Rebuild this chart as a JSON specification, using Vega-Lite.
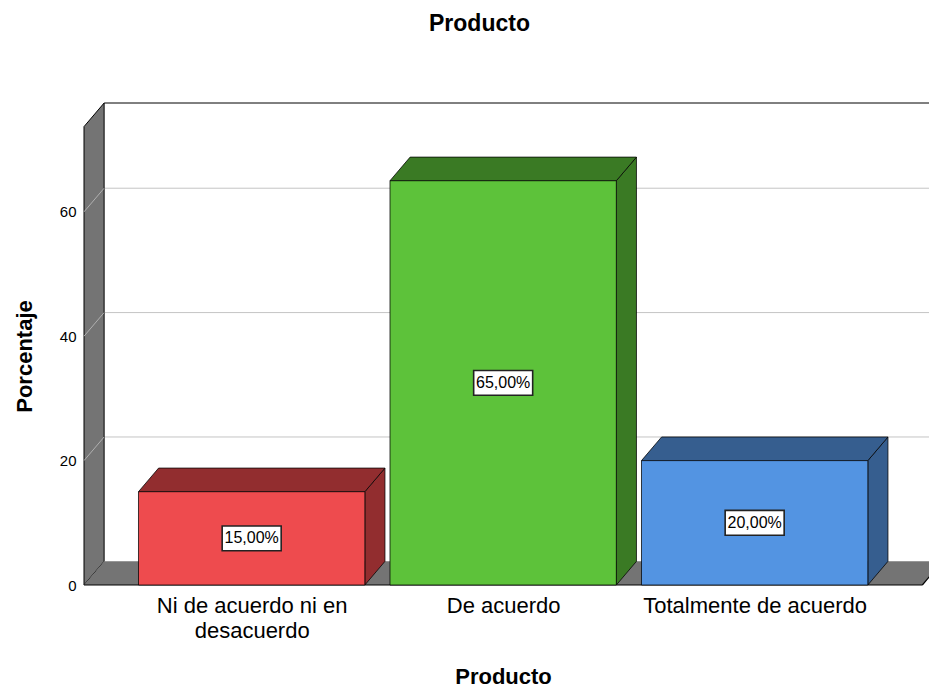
{
  "$schema": "https://vega.github.io/schema/vega-lite/v6.json",
  "width": 845,
  "height": 482,
  "autosize": "none",
  "padding": {"left": 84, "top": 103, "right": 0, "bottom": 106},
  "background": "white",
  "config": {
    "view": {"stroke": null},
    "font": "Liberation Sans",
    "axis": {"labelFont": "Liberation Sans", "titleFont": "Liberation Sans", "labelColor": "black", "titleColor": "black"}
  },
  "title": {
    "text": "Producto",
    "font": "Liberation Sans",
    "fontSize": 23,
    "fontWeight": "bold",
    "color": "black",
    "anchor": "middle",
    "offset": 65,
    "dx": -27
  },
  "datasets": {
    "respuestas": [
      {"producto": "Ni de acuerdo ni en desacuerdo", "porcentaje": 15},
      {"producto": "De acuerdo", "porcentaje": 65},
      {"producto": "Totalmente de acuerdo", "porcentaje": 20}
    ],
    "marco": [{"borde": "frente"}, {"borde": "fondo"}],
    "marcas": [{"valor": 20}, {"valor": 40}, {"valor": 60}]
  },
  "resolve": {"scale": {"fill": "independent"}},
  "layer": [
    {
      "data": {"values": [{}]},
      "mark": {"type": "rule", "color": "black", "strokeWidth": 1},
      "encoding": {
        "x": {
          "datum": -0.5867,
          "type": "quantitative",
          "scale": {"domain": [-0.6667, 2.6932], "nice": false, "zero": false},
          "axis": {
            "title": "Producto",
            "values": [0, 1, 2],
            "labelExpr": "datum.value == 0 ? ['Ni de acuerdo ni en', 'desacuerdo'] : datum.value == 1 ? 'De acuerdo' : 'Totalmente de acuerdo'",
            "grid": false,
            "domain": false,
            "ticks": false,
            "labelFlush": false,
            "labelOverlap": false,
            "labelLimit": 400,
            "labelFontSize": 22,
            "labelLineHeight": 25,
            "labelPadding": 10,
            "titleFontSize": 22,
            "titleFontWeight": "bold",
            "titlePadding": 25,
            "titleX": 419
          }
        },
        "x2": {"datum": 2.8},
        "y": {
          "datum": 77.5,
          "type": "quantitative",
          "scale": {"domain": [0, 77.5], "nice": false, "zero": false},
          "axis": {
            "title": "Porcentaje",
            "values": [0, 20, 40, 60],
            "grid": false,
            "domain": false,
            "ticks": false,
            "labelPadding": 8,
            "labelFontSize": 15,
            "titleFontSize": 22,
            "titleFontWeight": "bold",
            "titlePadding": 23,
            "titleY": 253
          }
        }
      }
    },
    {
      "data": {"name": "marcas"},
      "transform": [{"calculate": "datum.valor + 3.8", "as": "yf"}],
      "mark": {"type": "rule", "color": "#c4c4c4", "strokeWidth": 1},
      "encoding": {
        "x": {"datum": -0.5867, "type": "quantitative"},
        "x2": {"datum": 2.8},
        "y": {"field": "yf", "type": "quantitative"}
      }
    },
    {
      "data": {"name": "marco"},
      "transform": [
        {"calculate": "datum.borde == 'fondo' ? 1 : 0", "as": "d"},
        {"calculate": "-0.6667 + datum.d * 0.08", "as": "xw"},
        {"calculate": "datum.d * 3.8", "as": "y0"},
        {"calculate": "73.7 + datum.d * 3.8", "as": "y1"}
      ],
      "mark": {"type": "area", "orient": "vertical", "fill": "#747474", "stroke": "black", "strokeWidth": 1},
      "encoding": {
        "x": {"field": "xw", "type": "quantitative"},
        "y": {"field": "y1", "type": "quantitative"},
        "y2": {"field": "y0"}
      }
    },
    {
      "data": {"name": "marcas"},
      "transform": [{"calculate": "datum.valor + 3.8", "as": "yf"}],
      "mark": {"type": "rule", "color": "#b0b0b0", "strokeWidth": 1},
      "encoding": {
        "x": {"datum": -0.6667, "type": "quantitative"},
        "x2": {"datum": -0.5867},
        "y": {"field": "valor", "type": "quantitative"},
        "y2": {"field": "yf"}
      }
    },
    {
      "data": {"name": "marco"},
      "transform": [
        {"calculate": "datum.borde == 'fondo' ? 1 : 0", "as": "d"},
        {"calculate": "-0.6667 + datum.d * 0.08", "as": "xa"},
        {"calculate": "2.6667 + datum.d * 0.08", "as": "xb"},
        {"calculate": "datum.d * 3.8", "as": "yp"}
      ],
      "mark": {"type": "area", "orient": "horizontal", "fill": "#747474"},
      "encoding": {
        "y": {"field": "yp", "type": "quantitative"},
        "x": {"field": "xa", "type": "quantitative"},
        "x2": {"field": "xb"}
      }
    },
    {
      "data": {"values": [{}]},
      "mark": {"type": "rule", "color": "black", "strokeWidth": 1.2},
      "encoding": {
        "x": {"datum": -0.6667, "type": "quantitative"},
        "x2": {"datum": 2.6667},
        "y": {"datum": 0, "type": "quantitative"}
      }
    },
    {
      "data": {"values": [{}]},
      "mark": {"type": "rule", "color": "black", "strokeWidth": 1.2},
      "encoding": {
        "x": {"datum": 2.6667, "type": "quantitative"},
        "x2": {"datum": 2.7467},
        "y": {"datum": 0, "type": "quantitative"},
        "y2": {"datum": 3.8}
      }
    },
    {
      "data": {"name": "respuestas"},
      "transform": [
        {"window": [{"op": "row_number", "as": "n"}]},
        {"calculate": "datum.n - 1", "as": "c"},
        {"calculate": "0", "as": "frente"},
        {"calculate": "1", "as": "fondo"},
        {"fold": ["frente", "fondo"], "as": ["cara", "d"]},
        {"calculate": "datum.c + 0.45 + datum.d * 0.08", "as": "xs"},
        {"calculate": "datum.d * 3.8", "as": "ys0"},
        {"calculate": "datum.porcentaje + datum.d * 3.8", "as": "ys1"}
      ],
      "mark": {"type": "area", "orient": "vertical", "stroke": "black", "strokeWidth": 1, "strokeOpacity": 0.75},
      "encoding": {
        "detail": {"field": "producto"},
        "x": {"field": "xs", "type": "quantitative"},
        "y": {"field": "ys1", "type": "quantitative"},
        "y2": {"field": "ys0"},
        "fill": {
          "field": "producto",
          "type": "nominal",
          "legend": null,
          "scale": {"domain": ["Ni de acuerdo ni en desacuerdo", "De acuerdo", "Totalmente de acuerdo"], "range": ["#922D2F", "#3A7A24", "#365E8F"]}
        }
      }
    },
    {
      "data": {"name": "respuestas"},
      "transform": [
        {"window": [{"op": "row_number", "as": "n"}]},
        {"calculate": "datum.n - 1", "as": "c"},
        {"calculate": "0", "as": "frente"},
        {"calculate": "1", "as": "fondo"},
        {"fold": ["frente", "fondo"], "as": ["cara", "d"]},
        {"calculate": "datum.c - 0.45 + datum.d * 0.08", "as": "xt0"},
        {"calculate": "datum.c + 0.45 + datum.d * 0.08", "as": "xt1"},
        {"calculate": "datum.porcentaje + datum.d * 3.8", "as": "yt"}
      ],
      "mark": {"type": "area", "orient": "horizontal", "stroke": "black", "strokeWidth": 1, "strokeOpacity": 0.75},
      "encoding": {
        "detail": {"field": "producto"},
        "y": {"field": "yt", "type": "quantitative"},
        "x": {"field": "xt0", "type": "quantitative"},
        "x2": {"field": "xt1"},
        "fill": {
          "field": "producto",
          "type": "nominal",
          "legend": null,
          "scale": {"domain": ["Ni de acuerdo ni en desacuerdo", "De acuerdo", "Totalmente de acuerdo"], "range": ["#922D2F", "#3A7A24", "#365E8F"]}
        }
      }
    },
    {
      "data": {"name": "respuestas"},
      "transform": [
        {"window": [{"op": "row_number", "as": "n"}]},
        {"calculate": "datum.n - 1", "as": "c"},
        {"calculate": "datum.c - 0.45", "as": "xf0"},
        {"calculate": "datum.c + 0.45", "as": "xf1"}
      ],
      "mark": {"type": "rect", "stroke": "black", "strokeWidth": 1, "strokeOpacity": 0.75},
      "encoding": {
        "x": {"field": "xf0", "type": "quantitative"},
        "x2": {"field": "xf1"},
        "y": {"field": "porcentaje", "type": "quantitative"},
        "y2": {"datum": 0},
        "fill": {
          "field": "producto",
          "type": "nominal",
          "legend": null,
          "scale": {"domain": ["Ni de acuerdo ni en desacuerdo", "De acuerdo", "Totalmente de acuerdo"], "range": ["#EE4B4E", "#5DC23A", "#5394E2"]}
        }
      }
    },
    {
      "data": {"name": "respuestas"},
      "transform": [
        {"window": [{"op": "row_number", "as": "n"}]},
        {"calculate": "datum.n - 1", "as": "c"},
        {"calculate": "datum.porcentaje / 2", "as": "ym"}
      ],
      "mark": {
        "type": "point",
        "shape": "M-1,-0.42L1,-0.42L1,0.42L-1,0.42Z",
        "size": 3481,
        "filled": true,
        "fill": "white",
        "stroke": "#222222",
        "strokeWidth": 1.6,
        "opacity": 1
      },
      "encoding": {
        "x": {"field": "c", "type": "quantitative"},
        "y": {"field": "ym", "type": "quantitative"}
      }
    },
    {
      "data": {"name": "respuestas"},
      "transform": [
        {"window": [{"op": "row_number", "as": "n"}]},
        {"calculate": "datum.n - 1", "as": "c"},
        {"calculate": "datum.porcentaje / 2", "as": "ym"},
        {"calculate": "replace(format(datum.porcentaje, '.2f'), '.', ',') + '%'", "as": "etiqueta"}
      ],
      "mark": {"type": "text", "font": "Liberation Sans", "fontSize": 16, "color": "black", "baseline": "middle", "align": "center"},
      "encoding": {
        "x": {"field": "c", "type": "quantitative"},
        "y": {"field": "ym", "type": "quantitative"},
        "text": {"field": "etiqueta"}
      }
    }
  ]
}
